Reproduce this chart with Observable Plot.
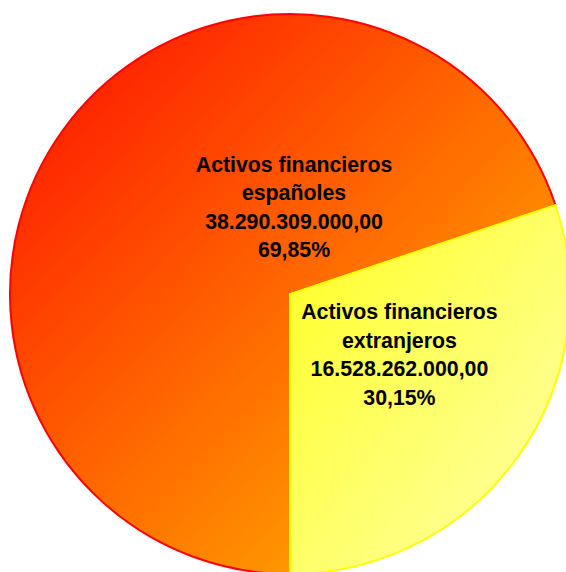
<!DOCTYPE html>
<html>
<head>
<meta charset="utf-8">
<script src="https://cdn.jsdelivr.net/npm/d3@7"></script>
<script src="https://cdn.jsdelivr.net/npm/@observablehq/plot@0.6"></script>
<style>
  html, body { margin: 0; padding: 0; background: #fff; }
  #chart { width: 566px; height: 572px; overflow: hidden; }
</style>
</head>
<body>
<div id="chart"></div>
<script>
// ---- data ----
const categories = ["Activos financieros españoles", "Activos financieros extranjeros"];
const labelNames = ["Activos financieros\nespañoles", "Activos financieros\nextranjeros"];
const values = [38290309000, 16528262000];

// ---- styles / layout (not data) ----
const gradients = [
  {id: "gOrange", from: "#FF0C00", to: "#FFC400", stroke: "#FF0000"},
  {id: "gYellow", from: "#FFFF20", to: "#FFFFB0", stroke: "#FFFF00"}
];
const labelAnchors = [[0.0125, 0.318], [0.389, -0.208]];

const esLocale = d3.formatLocale({decimal: ",", thousands: ".", grouping: [3], currency: ["", " €"]});
const fmtNum = esLocale.format(",.2f");
const fmtPct = esLocale.format(".2%");
const total = d3.sum(values);

const table = categories.map((c, i) => ({
  category: c,
  value: values[i],
  label: `${labelNames[i]}\n${fmtNum(values[i])}\n${fmtPct(values[i] / total)}`,
  lx: labelAnchors[i][0],
  ly: labelAnchors[i][1]
}));

const pie = d3.pie().sort(null).value(d => d.value).startAngle(Math.PI).endAngle(3 * Math.PI);
const arcs = pie(table);

function pieMark(index, scales) {
  const cx = scales.x(0), cy = scales.y(0);
  const r = scales.x(1) - scales.x(0);
  const arc = d3.arc().innerRadius(0).outerRadius(r);
  const g = d3.create("svg:g");
  const defs = g.append("defs");
  gradients.forEach(gr => {
    const lg = defs.append("linearGradient").attr("id", gr.id)
      .attr("x1", 0).attr("y1", 0).attr("x2", 1).attr("y2", 1);
    lg.append("stop").attr("offset", 0).attr("stop-color", gr.from);
    lg.append("stop").attr("offset", 1).attr("stop-color", gr.to);
  });
  g.attr("transform", `translate(${cx},${cy})`);
  g.selectAll("path").data(arcs).join("path")
    .attr("d", arc)
    .attr("fill", (d, i) => `url(#${gradients[i].id})`)
    .attr("stroke", (d, i) => gradients[i].stroke)
    .attr("stroke-width", 2)
    .attr("stroke-linejoin", "round");
  return g.node();
}

const chart = Plot.plot({
  width: 566,
  height: 572,
  margin: 0,
  x: {domain: [-1, 1], range: [10, 570], axis: null},
  y: {domain: [-1, 1], range: [574, 14], axis: null},
  style: {background: "#fff"},
  marks: [
    pieMark,
    Plot.text(table, {
      x: "lx", y: "ly", text: "label",
      fontSize: 21.3, fontWeight: "bold",
      fontFamily: "Liberation Sans, Arial, sans-serif",
      lineHeight: 1.34, fill: "#000", textAnchor: "middle"
    })
  ]
});
document.getElementById("chart").appendChild(chart);
</script>
</body>
</html>
